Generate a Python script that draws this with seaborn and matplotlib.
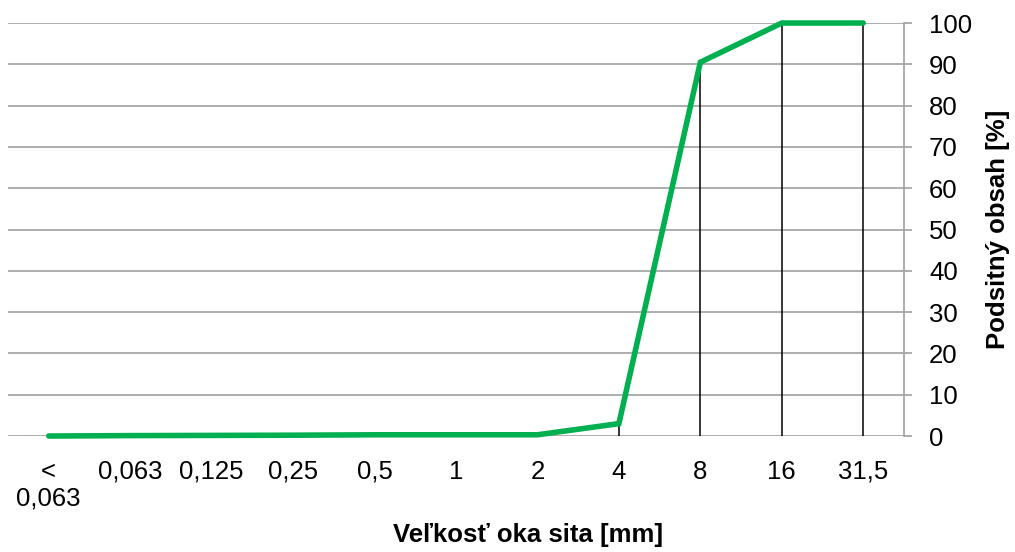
import matplotlib
matplotlib.use("Agg")
import matplotlib.pyplot as plt
import seaborn as sns
import numpy as np
import pandas as pd

categories = ["<\n0,063", "0,063", "0,125", "0,25", "0,5", "1", "2", "4", "8", "16", "31,5"]
values = [0.0, 0.1, 0.15, 0.2, 0.3, 0.3, 0.3, 3.0, 90.5, 100.0, 100.0]
yticks = [0, 10, 20, 30, 40, 50, 60, 70, 80, 90, 100]

sns.set_theme(style="white")
plt.rcParams['font.family'] = ['Liberation Sans', 'DejaVu Sans']
plt.rcParams['text.color'] = 'black'
plt.rcParams['xtick.color'] = 'black'
plt.rcParams['ytick.color'] = 'black'
plt.rcParams['axes.labelcolor'] = 'black'

fig = plt.figure(figsize=(10.15, 5.52), dpi=100)
ax = fig.add_axes([0.0079, 0.2101, 0.8827, 0.7482])

pos = np.arange(len(categories))
df = pd.DataFrame({"pos": pos, "val": values})

for y in yticks:
    ax.axhline(y, color="#a0a0a0", lw=1.2, zorder=0)

ax.vlines(pos, 0, values, color="black", lw=1.1, zorder=1)
sns.lineplot(data=df, x="pos", y="val", color="#00B050", lw=4.0, ax=ax, zorder=3,
             solid_capstyle="round", solid_joinstyle="miter", clip_on=False)

ax.set_xlim(-0.5, len(categories) - 0.5)
ax.set_ylim(0, 100)
ax.set_xticks(pos)
ax.set_xticklabels(categories, fontsize=18.5, linespacing=1.15)
ax.tick_params(axis="x", length=0, pad=17)
ax.yaxis.tick_right()
ax.yaxis.set_label_position("right")
ax.set_yticks(yticks)
ax.set_yticklabels([str(v) for v in yticks], fontsize=18.5)
ax.tick_params(axis="y", length=6, width=1.2, color="#a0a0a0", labelcolor="black",
               pad=12, right=True, left=False)

for s in ["top", "left", "bottom"]:
    ax.spines[s].set_visible(False)
ax.spines["right"].set_color("#a0a0a0")
ax.spines["right"].set_linewidth(1.2)

ax.set_ylabel("Podsitný obsah [%]", fontsize=18.5, fontweight="bold", labelpad=10)
ax.set_xlabel("Veľkosť oka sita [mm]", fontsize=18.5, fontweight="bold", labelpad=9)
ax.xaxis.label.set_x(0.58)
ax.grid(False)

fig.savefig("out.png", dpi=100)
